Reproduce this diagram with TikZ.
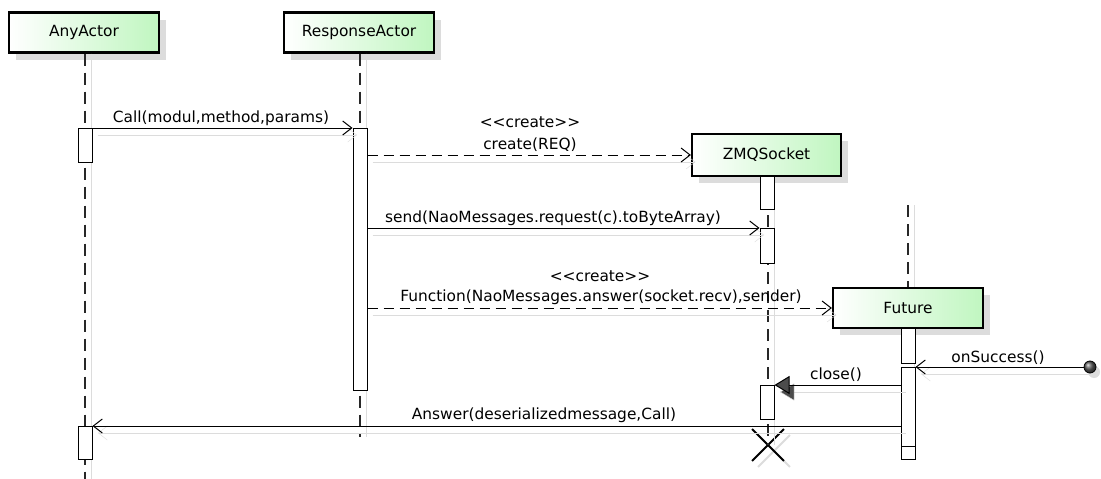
\documentclass[tikz,border=0pt]{standalone}
\usepackage{fontspec}
\setmainfont{DejaVu Sans}
\usetikzlibrary{arrows.meta,shadows,shapes.misc}
\definecolor{umlgreen}{RGB}{192,246,192}
\definecolor{lifegray}{RGB}{40,40,40}
\definecolor{shadowgray}{RGB}{220,220,220}
\begin{document}
\begin{tikzpicture}[x=1pt,y=-1pt,
  font=\fontsize{15.4}{18}\selectfont,
  actor/.style={draw, line width=2.2pt, minimum width=150pt, minimum height=40pt,
    inner sep=0pt, left color=white, right color=umlgreen,
    drop shadow={shadow xshift=7pt, shadow yshift=-7pt, fill=shadowgray, opacity=1}},
  act/.style={draw, fill=white, line width=1pt, minimum width=14pt, inner sep=0pt, anchor=north},
  lifeline/.style={draw=lifegray, line width=1.1pt, dash pattern=on 12pt off 7pt,
    preaction={draw=shadowgray, solid, line width=0.9pt, transform canvas={xshift=6pt}}},
  msg/.style={draw, line width=1pt,
    -{Straight Barb[length=9pt,width=14pt,line width=1pt]},
    preaction={draw=shadowgray, transform canvas={shift={(5pt,-7pt)}}}},
  createmsg/.style={msg, dash pattern=on 10pt off 6pt},
  syncmsg/.style={draw, line width=1pt,
    -{Triangle[length=15pt,width=18pt,fill=black!70]},
    preaction={draw=shadowgray, transform canvas={shift={(5pt,-7pt)}}}},
  lbl/.style={inner sep=0pt, anchor=base}
]
\useasboundingbox[fill=white] (0,0) rectangle (1101,479);

% participants
\node[actor] (any) at (84,32.5) {AnyActor};
\node[actor] (resp) at (359,32.5) {ResponseActor};
\node[actor, minimum width=149pt, minimum height=42pt] (zmq) at (766.5,155) {ZMQSocket};
\node[actor] (fut) at (908,308) {Future};

% lifeline ends
\coordinate (anyEnd) at (85,479);
\coordinate (respEnd) at (360,437);
\coordinate (futTop) at (908,205);
\coordinate (futEnd) at (908,459);

% destruction mark
\node[draw, cross out, minimum size=30pt, inner sep=0pt, line width=1.8pt,
  preaction={draw=shadowgray, transform canvas={shift={(6pt,-6pt)}}}] (kill) at (768,445) {};

% lifelines
\draw[lifeline] (any.south -| anyEnd) -- (anyEnd);
\draw[lifeline] (resp.south -| respEnd) -- (respEnd);
\draw[lifeline] (zmq.south -| kill) -- (kill.center);
\draw[lifeline] (futTop) -- (fut.north);
\draw[lifeline] (fut.south) -- (futEnd);

% activations
\node[act, minimum height=34pt] (a1) at (85,128) {};
\node[act, minimum height=33pt] (a2) at (85,426) {};
\node[act, minimum height=262pt] (r1) at (360,128) {};
\node[act, minimum height=33pt] (z1) at (767,176) {};
\node[act, minimum height=35pt] (z2) at (767,228) {};
\node[act, minimum height=34pt] (z3) at (767,385) {};
\node[act, minimum height=35pt] (f1) at (908,328) {};
\node[act, minimum height=79pt] (f2) at (908,367) {};
\node[act, minimum height=13pt] (f3) at (908,446) {};

% found message origin
\node[circle, draw, line width=0.8pt, minimum size=12pt, inner sep=0pt,
  ball color=black!65,
  preaction={fill=shadowgray, transform canvas={shift={(4pt,-5pt)}}}] (found) at (1090,367) {};

% messages
\draw[msg] (a1.north east) -- (r1.north west);
\draw[createmsg] (r1.east |- zmq.west) -- (zmq.west);
\draw[msg] (r1.east |- z2.north) -- (z2.north west);
\draw[createmsg] (r1.east |- fut.west) -- (fut.west);
\draw[msg] (found.west) -- (f2.north east);
\draw[syncmsg] (f2.west |- z3.north) -- (z3.north east);
\draw[msg] (f2.west |- a2.north) -- (a2.north east);

% message labels
\node[lbl] (lCall) at (221,122.5) {Call(modul,method,params)};
\node[lbl] (lSt1) at (530,127.5) {<{}<create>{}>};
\node[lbl] (lCreate) at (530,149) {create(REQ)};
\node[lbl] (lSend) at (553,222.5) {send(NaoMessages.request(c).toByteArray)};
\node[lbl] (lSt2) at (600,281) {<{}<create>{}>};
\node[lbl] (lFunc) at (601,301) {Function(NaoMessages.answer(socket.recv),sender)};
\node[lbl] (lSucc) at (998,362) {onSuccess()};
\node[lbl] (lClose) at (836,379) {close()};
\node[lbl] (lAns) at (544,419) {Answer(deserializedmessage,Call)};
\end{tikzpicture}
\end{document}
